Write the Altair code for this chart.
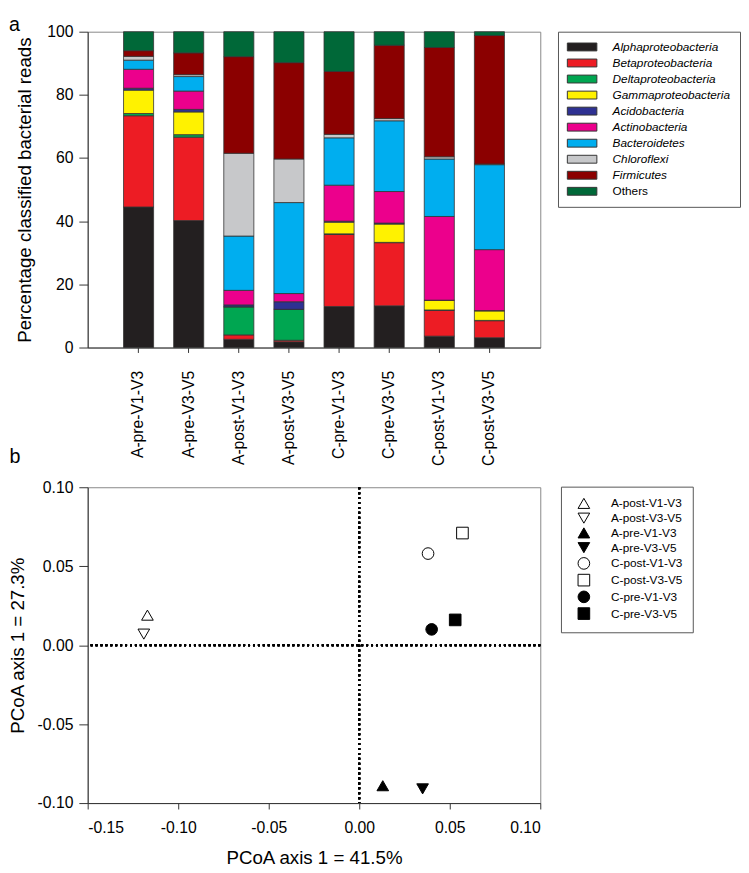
import altair as alt
import pandas as pd

FONT = "Liberation Sans"

# ---------------- panel a data ----------------
samples = ["A-pre-V1-V3", "A-pre-V3-V5", "A-post-V1-V3", "A-post-V3-V5",
           "C-pre-V1-V3", "C-pre-V3-V5", "C-post-V1-V3", "C-post-V3-V5"]

classes = ["Alphaproteobacteria", "Betaproteobacteria", "Deltaproteobacteria",
           "Gammaproteobacteria", "Acidobacteria", "Actinobacteria",
           "Bacteroidetes", "Chloroflexi", "Firmicutes", "Others"]

class_colors = ["#231f20", "#ed1c24", "#00a651", "#fff200", "#2e3192",
                "#ec008c", "#00aeef", "#c7c8ca", "#8b0000", "#006838"]

alpha = [44.5, 40.2, 2.6, 1.8, 13.0, 13.2, 3.6, 3.1]
beta = [28.9, 26.4, 1.4, 0.5, 22.8, 20.0, 8.2, 5.4]
delta = [0.7, 0.8, 8.9, 9.8, 0.2, 0.1, 0.1, 0.1]
gamma = [7.4, 7.2, 0.0, 0.0, 3.7, 5.8, 3.0, 3.0]
acido = [0.6, 0.8, 0.6, 2.4, 0.3, 0.3, 0.1, 0.1]
actino = [6.0, 5.8, 4.6, 2.6, 11.4, 10.0, 26.5, 19.3]
bacteroidetes = [2.9, 4.6, 17.2, 28.8, 15.0, 22.4, 18.2, 26.9]
chloroflexi = [1.2, 0.6, 26.2, 13.8, 1.1, 0.7, 0.7, 0.2]
firmicutes = [1.8, 6.9, 30.6, 30.5, 19.9, 23.2, 34.6, 40.7]
others = [6.0, 6.7, 7.9, 9.8, 12.6, 4.3, 5.0, 1.2]

series = [alpha, beta, delta, gamma, acido, actino, bacteroidetes,
          chloroflexi, firmicutes, others]

rows = []
for ci, (cls, vals) in enumerate(zip(classes, series)):
    for s, v in zip(samples, vals):
        rows.append({"sample": s, "taxon": cls, "value": v, "idx": ci})
bars_df = pd.DataFrame(rows)

# ---------------- panel b data ----------------
pt_names = ["A-post-V1-V3", "A-post-V3-V5", "A-pre-V1-V3", "A-pre-V3-V5",
            "C-post-V1-V3", "C-post-V3-V5", "C-pre-V1-V3", "C-pre-V3-V5"]
pc1 = [-0.117, -0.119, 0.013, 0.035, 0.038, 0.057, 0.040, 0.053]
pc2 = [0.019, 0.007, -0.089, -0.091, 0.058, 0.071, 0.010, 0.016]
pt_shapes = ["triangle-up", "triangle-down", "triangle-up", "triangle-down",
             "circle", "square", "circle", "square"]
pt_fills = ["white", "white", "black", "black", "white", "white", "black", "black"]
pt_strokes = ["black"] * 8
x_ticks = [-0.15, -0.10, -0.05, 0.0, 0.05, 0.10]
y_ticks = [-0.10, -0.05, 0.0, 0.05, 0.10]
pts_df = pd.DataFrame({"sample": pt_names, "pc1": pc1, "pc2": pc2})

num_label = "(datum.value < -0.00001 ? '-' : '') + format(abs(datum.value), '.2f')"

# ---------------- panel a ----------------
bar_legend = alt.Legend(
    title=None, orient="none", legendX=478, legendY=0,
    symbolType="M-3,-0.8H3V0.8H-3Z", symbolSize=100,
    symbolStrokeColor="#333", symbolStrokeWidth=1,
    symbolOffset=9, labelOffset=25, rowPadding=4.3, padding=9.5,
    strokeColor="#555", labelFontSize=12, labelFont=FONT, labelColor="black",
    labelLimit=300,
    labelFontStyle=alt.ExprRef("datum.value === 'Others' ? 'normal' : 'italic'"),
)

top = alt.Chart(bars_df).mark_bar(stroke="#333", strokeWidth=0.8).encode(
    x=alt.X("sample:N", sort=samples,
            scale=alt.Scale(paddingInner=0.4, paddingOuter=0.715),
            axis=alt.Axis(title="b", labelAngle=-90, labelFontSize=16,
                          labelPadding=18, tickSize=5,
                          titleX=-80, titleY=117, titleAlign="left",
                          titleBaseline="alphabetic", titleAngle=0,
                          titleFontSize=20)),
    y=alt.Y("value:Q", stack="zero",
            scale=alt.Scale(domain=[0, 100], nice=False),
            axis=alt.Axis(values=[0, 20, 40, 60, 80, 100],
                          title="Percentage classified bacterial reads",
                          titleFontSize=19, titlePadding=12.3, tickSize=9,
                          labelPadding=6, labelFontSize=16)),
    color=alt.Color("taxon:N", scale=alt.Scale(domain=classes, range=class_colors),
                    legend=bar_legend),
    order=alt.Order("idx:Q", sort="ascending"),
).properties(
    width=460, height=321,
    title=alt.TitleParams("a", anchor="start", frame="group", dx=-80,
                          fontSize=20, fontWeight="normal", offset=-11.5, font=FONT),
)

# ---------------- panel b ----------------
pt_legend = alt.Legend(
    title=None, orient="none", legendX=481, legendY=462.4,
    symbolSize=140, symbolStrokeColor="black", symbolStrokeWidth=1,
    symbolOffset=6.3, labelOffset=21, rowPadding=0, padding=10.5,
    strokeColor="#555", labelFontSize=12, labelFont=FONT, labelColor="black",
)

xb = alt.X("pc1:Q", scale=alt.Scale(domain=[-0.15, 0.10], nice=False, zero=False),
           axis=alt.Axis(values=x_ticks, labelExpr=num_label, tickSize=6,
                         labelPadding=10.5, labelFontSize=16,
                         title="PCoA axis 1 = 41.5%", titleFontSize=19,
                         titlePadding=13.8))
yb = alt.Y("pc2:Q", scale=alt.Scale(domain=[-0.10, 0.10], nice=False, zero=False),
           axis=alt.Axis(values=y_ticks, labelExpr=num_label, tickSize=9,
                         labelPadding=6, labelFontSize=16,
                         title="PCoA axis 1 = 27.3%", titleFontSize=19,
                         titlePadding=9.5))

points = alt.Chart(pts_df).mark_point(
    filled=True, size=140, strokeWidth=1, opacity=1
).encode(
    x=xb, y=yb,
    shape=alt.Shape("sample:N", scale=alt.Scale(domain=pt_names, range=pt_shapes),
                    legend=pt_legend),
    fill=alt.Fill("sample:N", scale=alt.Scale(domain=pt_names, range=pt_fills),
                  legend=pt_legend),
    stroke=alt.Stroke("sample:N", scale=alt.Scale(domain=pt_names, range=pt_strokes),
                      legend=pt_legend),
)

vline = alt.Chart(pts_df).mark_rule(strokeDash=[2, 3], strokeWidth=2, color="black").encode(
    x=alt.datum(0))
hline = alt.Chart(pts_df).mark_rule(strokeDash=[2, 3], strokeWidth=2, color="black").encode(
    y=alt.datum(0))

bottom = alt.layer(vline, hline, points).properties(width=460, height=321)

chart = alt.vconcat(top, bottom, spacing=11).properties(padding=0).configure_axis(
    domainColor="#333", tickColor="#333", labelColor="black", titleColor="black",
    labelFont=FONT, titleFont=FONT, titleFontWeight="normal", grid=False,
).configure_view(stroke="#888", strokeWidth=1).configure_title(font=FONT)

chart.save("out.html", embed_options={"renderer": "svg", "actions": False})
